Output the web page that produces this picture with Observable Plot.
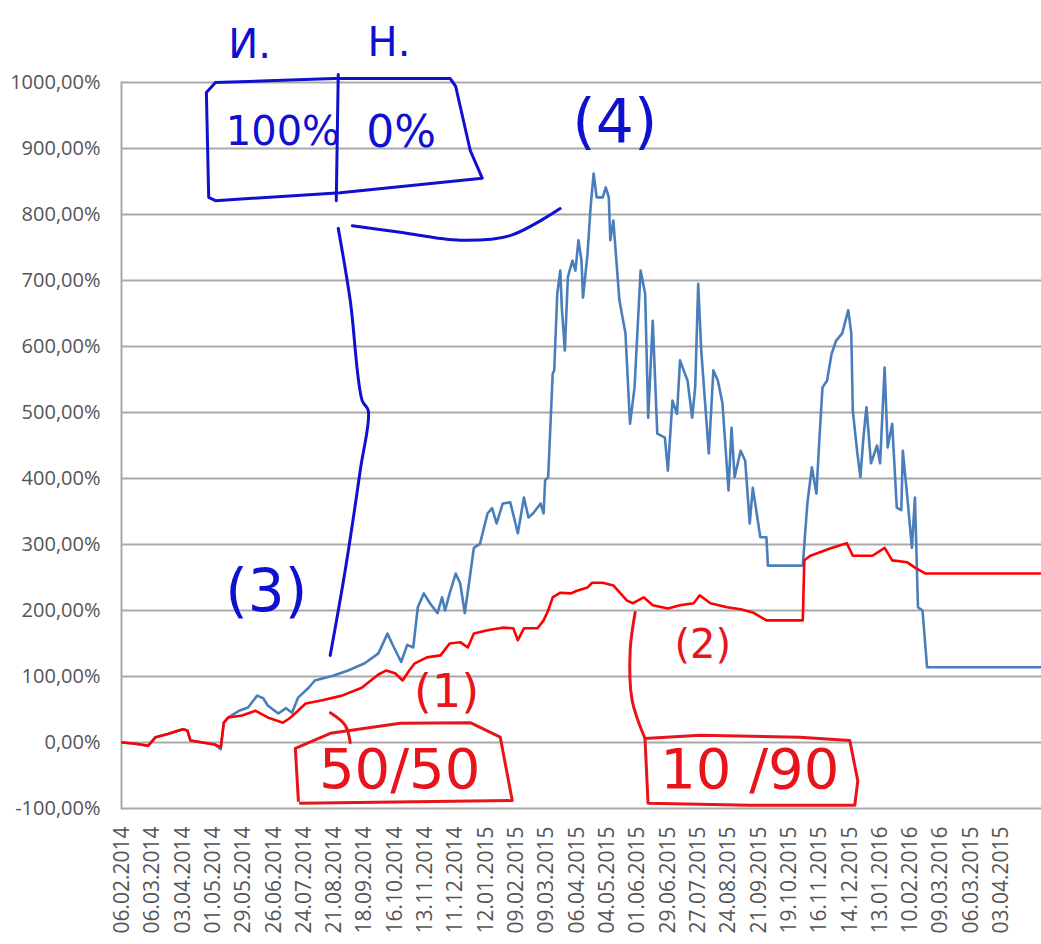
<!DOCTYPE html>
<html>
<head>
<meta charset="utf-8">
<script src="https://cdn.jsdelivr.net/npm/d3@7"></script>
<script src="https://cdn.jsdelivr.net/npm/@observablehq/plot@0.6"></script>
<style>
  html, body { margin: 0; padding: 0; background: #fff; overflow: hidden; }
  #chart svg { display: block; }
</style>
</head>
<body>
<div id="chart"></div>
<script>
// ---- category axis (trading-day index) ----
const xLabels = ["06.02.2014","06.03.2014","03.04.2014","01.05.2014","29.05.2014","26.06.2014","24.07.2014","21.08.2014","18.09.2014","16.10.2014","13.11.2014","11.12.2014","12.01.2015","09.02.2015","09.03.2015","06.04.2015","04.05.2015","01.06.2015","29.06.2015","27.07.2015","24.08.2015","21.09.2015","19.10.2015","16.11.2015","14.12.2015","13.01.2016","10.02.2016","09.03.2016","06.03.2015","03.04.2015"];
const labelStep = 20;
const nDays = 607;
const yTicks = [-100, 0, 100, 200, 300, 400, 500, 600, 700, 800, 900, 1000];

// ---- series (4): 100% / 0% ----
const blueIdx = [0,9,17,22,30,40,43,45,53,61,65,67,70,77,83,89,93,96,103,108,112,116,123,127,139,149,160,169,175,178,184,188,192,195,199,203,208,211,213,216,220,223,226,229,232,236,241,244,247,251,256,261,265,268,271,274,276,278,279,281,284,285,287,289,290,292,294,297,299,301,303,304,307,309,311,313,317,319,321,322,324,328,332,335,338,342,345,347,350,353,358,360,363,366,368,373,376,378,380,382,387,390,393,396,400,402,404,408,411,414,416,421,425,426,449,452,455,458,460,462,465,468,471,475,479,481,482,485,487,489,491,494,498,500,503,505,508,511,514,515,518,521,523,525,528,531,606];
const blueVal = [0,-2,-5,8,13,20,18,3,0,-3,-10,30,38,48,53,71,67,56,44,52,45,68,83,94,101,109,120,135,165,150,122,148,144,205,226,211,196,220,200,226,256,241,196,245,295,301,347,355,332,362,364,317,371,341,347,356,362,347,397,402,559,564,680,715,659,594,705,730,715,761,730,674,741,811,862,826,826,841,826,761,791,670,620,483,538,715,680,492,639,468,462,412,518,498,579,548,492,538,695,594,438,564,548,514,382,477,402,442,427,332,386,311,311,268,268,362,417,377,462,538,548,589,609,620,655,620,503,438,402,462,508,423,450,423,568,447,483,356,352,442,371,295,371,205,200,114,114];

// ---- series (1)/(2): 50/50 then 10/90 ----
const redIdx = [0,9,17,22,30,40,43,45,53,61,65,67,70,79,88,96,106,110,114,121,132,145,158,169,174,180,185,189,193,201,210,216,223,228,232,241,251,258,261,265,274,278,281,284,289,296,300,307,310,317,324,333,337,344,350,360,368,377,381,388,399,408,416,425,449,450,454,467,478,482,495,503,508,518,523,530,606];
const redVal = [0,-2,-5,8,13,20,18,3,0,-3,-7,30,38,41,48,38,30,36,44,59,64,71,83,103,109,105,94,108,120,129,132,150,152,144,165,170,174,173,155,173,173,185,200,220,227,226,230,235,242,242,238,215,211,220,208,203,208,211,223,211,205,202,197,185,185,276,283,294,302,283,283,295,276,273,265,256,256];

// ---- handwritten annotations (data units: day index, %) ----
const noteText  = ["И.", "Н.", "100%", "0%", "(4)", "(3)", "(1)", "(2)", "50/50", "10 /90"];
const noteX     = [84, 176, 106, 184, 325, 95, 214, 383, 183, 414];
const noteY     = [1056, 1060, 924, 924, 939, 227, 76, 147, -42, -42];
const noteColor = ["#1010d0","#1010d0","#1010d0","#1010d0","#1010d0","#1010d0","#e8141c","#e8141c","#e8141c","#e8141c"];
const noteSize  = [40, 40, 40, 44, 60, 58, 46, 40, 56, 56];

// hand-drawn strokes; boxes are straight polylines, the rest smooth curves
const strokeId  = ["box","box","box","box","box","box","box","box","box","box","box","box",
                   "div","div",
                   "brace","brace","brace","brace","brace",
                   "long","long","long","long","long","long","long",
                   "b50","b50","b50","b50","b50","b50","b50","b50",
                   "tick","tick","tick",
                   "b10","b10","b10","b10","b10","b10","b10","b10","b10",
                   "lead","lead","lead","lead"];
const strokeX   = [57,55.5,61.5,140,216.4,220,229.6,237.5,143.9,61.5,57,57,
                   142.5,141.2,
                   151.8,183.4,223,255.9,288.9,
                   142.5,150.4,158.3,162.3,157,147.1,137.2,
                   116.2,114.2,137.3,183.4,229.6,249.4,257.3,117.5,
                   137.3,147.1,150.4,
                   344.9,381.1,447,480,485.3,483.3,414.1,346.9,344.9,
                   338.4,335.1,336.4,344.9];
const strokeY   = [830,985,1000,1006,1006,994,897,855,833,821,826,830,
                   1012,821,
                   783,773,761,768,809,
                   779,670,518,503,412,261,132,
                   -88,-9,14,29,30,8,-88,-92,
                   45,26,0,
                   6,11,8,3,-58,-95,-95,-92,6,
                   197,139,64,6];
const straightIds = ["box", "div", "b50", "b10"];
const strokeColor = {box:"#1010d0", div:"#1010d0", brace:"#1010d0", long:"#1010d0",
                     b50:"#e8141c", tick:"#e8141c", b10:"#e8141c", lead:"#e8141c"};

const blue = blueIdx.map((x, i) => ({x, y: blueVal[i]}));
const red = redIdx.map((x, i) => ({x, y: redVal[i]}));
const notes = noteText.map((t, i) => ({t, x: noteX[i], y: noteY[i], c: noteColor[i], s: noteSize[i]}));
const strokes = strokeId.map((id, i) => ({id, x: strokeX[i], y: strokeY[i], c: strokeColor[id]}));
const straight = strokes.filter(d => straightIds.includes(d.id));
const curved = strokes.filter(d => !straightIds.includes(d.id));
const tickIdx = xLabels.map((_, i) => i * labelStep);

const chart = Plot.plot({
  width: 1041,
  height: 944,
  marginLeft: 121,
  marginRight: 0,
  marginTop: 82,
  marginBottom: 136,
  style: {fontFamily: "'Open Sans', sans-serif", color: "#595959", background: "#fff", overflow: "visible"},
  x: {domain: [-0.5, nDays - 0.5]},
  y: {domain: [-100, 1000]},
  marks: [
    Plot.gridY(yTicks, {stroke: "#a9a9a9", strokeOpacity: 1, strokeWidth: 2}),
    Plot.frame({anchor: "left", stroke: "#a9a9a9", strokeWidth: 2}),
    Plot.axisY(yTicks, {tickSize: 0, tickPadding: 21, fontSize: 20, fill: "#555",
      tickFormat: d => d.toFixed(2).replace(".", ",") + "%", label: null}),
    Plot.axisX(tickIdx, {tickSize: 0, tickPadding: 18, tickRotate: -90, fontSize: 21, fill: "#555",
      tickFormat: i => xLabels[i / labelStep], label: null}),
    Plot.line(blue, {x: "x", y: "y", stroke: "#4a7ebb", strokeWidth: 2.6, curve: "linear"}),
    Plot.line(red, {x: "x", y: "y", stroke: "#ff0000", strokeWidth: 2.6, curve: "linear"}),
    Plot.line(straight, {x: "x", y: "y", z: "id", stroke: "c", strokeWidth: 3, curve: "linear", strokeLinejoin: "round"}),
    Plot.line(curved, {x: "x", y: "y", z: "id", stroke: "c", strokeWidth: 3, curve: "catmull-rom"}),
    Plot.text(notes, {x: "x", y: "y", text: "t", fill: "c", fontSize: "s",
      fontFamily: "'DejaVu Sans', sans-serif", textAnchor: "middle", lineAnchor: "middle"})
  ]
});
document.getElementById("chart").appendChild(chart);
</script>
</body>
</html>
